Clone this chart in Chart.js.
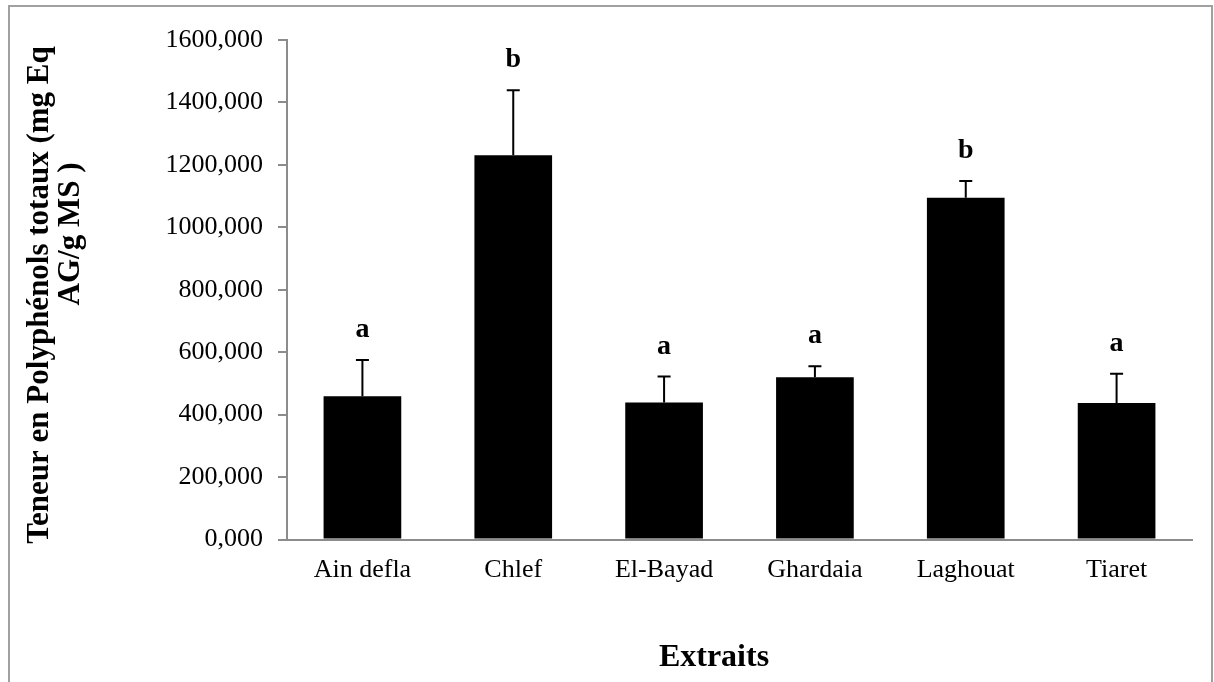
<!DOCTYPE html>
<html>
<head>
<meta charset="utf-8">
<title>Teneur en polyphénols totaux</title>
<style>
  html, body { margin: 0; padding: 0; background: #fff; overflow: hidden; }
  #wrap { position: relative; width: 1214px; height: 682px; }
  #frame { position: absolute; left: 8px; top: 5px; width: 1205px; height: 720px;
           border: 2px solid #a0a0a0; box-sizing: border-box; }
  canvas { position: absolute; left: 0; top: 0; }
</style>
<script src="https://cdn.jsdelivr.net/npm/chart.js@4/dist/chart.umd.min.js"></script>
</head>
<body>
<div id="wrap">
  <div id="frame"></div>
  <canvas id="chart" width="1214" height="682"></canvas>
</div>
<script>
// Extraits et teneurs moyennes (mg Eq AG/g MS)
const categories = ['Ain defla', 'Chlef', 'El-Bayad', 'Ghardaia', 'Laghouat', 'Tiaret'];
const teneur = [459, 1231, 439, 520, 1095, 437];
const ecartType = [116, 208, 83, 35, 53, 94];
const groupes = ['a', 'b', 'a', 'a', 'b', 'a'];
const yMin = 0;
const yMax = 1600;
const yStep = 200;

const SERIF = '"Liberation Serif", "Times New Roman", serif';
const AXIS_GREY = '#8c8c8c';

// Barres d'erreur (vers le haut) et lettres de groupes statistiques
const errorBars = {
  id: 'errorBars',
  afterDatasetsDraw(chart) {
    const ctx = chart.ctx;
    const y = chart.scales.y;
    const meta = chart.getDatasetMeta(0);
    ctx.save();
    meta.data.forEach((bar, i) => {
      const top = y.getPixelForValue(teneur[i] + ecartType[i]);
      ctx.strokeStyle = '#000';
      ctx.lineWidth = 2;
      ctx.beginPath();
      ctx.moveTo(bar.x, bar.y);
      ctx.lineTo(bar.x, top);
      ctx.moveTo(bar.x - 6.5, top);
      ctx.lineTo(bar.x + 6.5, top);
      ctx.stroke();
      ctx.fillStyle = '#000';
      ctx.font = 'bold 28px ' + SERIF;
      ctx.textAlign = 'center';
      ctx.textBaseline = 'middle';
      ctx.fillText(groupes[i], bar.x, top - 30);
    });
    ctx.restore();
  }
};

// Titres des axes
const axisTitles = {
  id: 'axisTitles',
  afterDraw(chart) {
    const ctx = chart.ctx;
    ctx.save();
    ctx.fillStyle = '#000';
    ctx.textAlign = 'center';
    ctx.textBaseline = 'middle';
    ctx.font = 'bold 31px ' + SERIF;
    const lines = [
      { text: 'Teneur en Polyphénols totaux (mg Eq', x: 40, y: 295 },
      { text: 'AG/g MS )', x: 71, y: 234 }
    ];
    lines.forEach(l => {
      ctx.save();
      ctx.translate(l.x, l.y);
      ctx.rotate(-Math.PI / 2);
      ctx.fillText(l.text, 0, 0);
      ctx.restore();
    });
    ctx.font = 'bold 32px ' + SERIF;
    ctx.fillText('Extraits', 714, 658);
    ctx.restore();
  }
};

new Chart(document.getElementById('chart'), {
  type: 'bar',
  data: {
    labels: categories,
    datasets: [{
      data: teneur,
      backgroundColor: '#000',
      borderWidth: 0,
      barPercentage: 1,
      categoryPercentage: 0.515
    }]
  },
  options: {
    responsive: false,
    animation: false,
    devicePixelRatio: 1,
    layout: { padding: { top: 40, right: 22, left: 0, bottom: 0 } },
    plugins: { legend: { display: false }, tooltip: { enabled: false } },
    scales: {
      x: {
        grid: { display: false, drawTicks: false },
        border: { display: true, color: AXIS_GREY, width: 2 },
        ticks: { color: '#000', font: { family: SERIF, size: 26 }, padding: 15, maxRotation: 0 },
        afterFit(scale) { scale.height = 142.5; }
      },
      y: {
        min: yMin,
        max: yMax,
        grid: { drawOnChartArea: false, drawTicks: true, tickLength: 9, color: AXIS_GREY, lineWidth: 2 },
        border: { display: true, color: AXIS_GREY, width: 2 },
        ticks: {
          stepSize: yStep,
          color: '#000',
          font: { family: SERIF, size: 26 },
          padding: 15,
          callback: v => Number(v).toFixed(3).replace('.', ',')
        },
        afterFit(scale) { scale.width = 287; }
      }
    }
  },
  plugins: [errorBars, axisTitles]
});
</script>
</body>
</html>
